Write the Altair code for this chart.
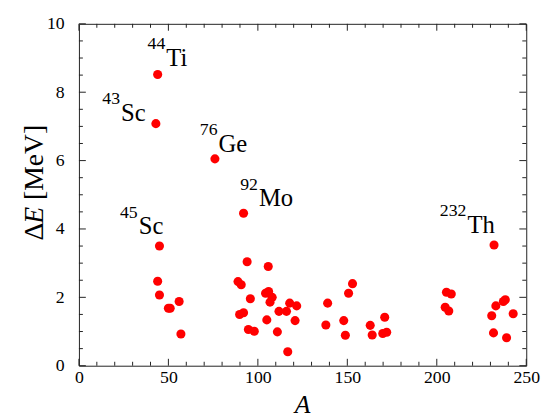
import altair as alt
import pandas as pd

# ---- data ----
A_vals = [44, 43, 76, 92, 45, 232,
          44, 45, 50, 51, 56, 57,
          94, 105.8, 88.9, 90.7, 104.3, 106, 108, 106.8, 95.8, 117.8, 121.7,
          111.8, 116, 89.8, 92, 105, 120.8, 94.7, 98, 110.9, 116.7,
          139, 138, 152.9, 150.7, 148, 148.9, 162.8, 163.9, 170.9, 169.8, 172,
          205.4, 208.1, 204.7, 206.7, 230.7, 233, 237.2, 238.3, 242.7, 231.7, 239]
E_vals = [8.52, 7.08, 6.05, 4.46, 3.50, 3.53,
          2.47, 2.07, 1.68, 1.68, 1.88, 0.93,
          3.04, 2.90, 2.46, 2.37, 2.12, 2.17, 2.00, 1.86, 1.96, 1.83, 1.75,
          1.59, 1.59, 1.50, 1.55, 1.34, 1.32, 1.06, 1.01, 0.99, 0.41,
          1.83, 1.19, 2.40, 2.12, 1.32, 0.89, 1.18, 0.90, 1.42, 0.94, 0.98,
          2.15, 2.10, 1.71, 1.60, 1.46, 1.75, 1.88, 1.93, 1.52, 0.96, 0.82]

# isotope annotations: mass number, element, anchor (A, E)
lab_mass = ["44", "43", "76", "92", "45", "232"]
lab_elem = ["Ti", "Sc", "Ge", "Mo", "Sc", "Th"]
lab_A = [48.8, 23.5, 78.0, 100.6, 33.4, 217.1]
lab_E = [8.78, 7.16, 6.25, 4.66, 3.84, 3.88]

x_major = [0, 50, 100, 150, 200, 250]
x_minor = [v for v in range(0, 251, 10) if v % 50 != 0]
y_major = [0, 2, 4, 6, 8, 10]
y_minor = [v / 2 for v in range(0, 21) if v % 4 != 0]

W, H = 454, 347
SERIF = "Liberation Serif"

pts = pd.DataFrame({"A": A_vals, "E": E_vals})
labs = pd.DataFrame({"mass": lab_mass, "elem": lab_elem, "A": lab_A, "E": lab_E})

xs = alt.Scale(domain=[0, 250], nice=False, zero=False)
ys = alt.Scale(domain=[0, 10], nice=False, zero=False)

x_axis = alt.Axis(values=x_major, ticks=False, domain=False, grid=False, title=None,
                  labelFont=SERIF, labelFontSize=18, labelColor="black", labelPadding=3,
                  labelFlush=False, labelOverlap=False)
y_axis = alt.Axis(values=y_major, ticks=False, domain=False, grid=False, title=None,
                  labelFont=SERIF, labelFontSize=18, labelColor="black", labelPadding=15,
                  labelFlush=False, labelOverlap=False)

points = alt.Chart(pts).mark_circle(size=85, color="#ff0000", opacity=1).encode(
    x=alt.X("A:Q", scale=xs, axis=x_axis),
    y=alt.Y("E:Q", scale=ys, axis=y_axis),
)

# inward ticks on all four sides
def xticks(vals, length):
    d = pd.DataFrame({"v": vals})
    bot = alt.Chart(d).mark_rule(color="#222", strokeWidth=1).encode(
        x=alt.X("v:Q", scale=xs), y=alt.value(H), y2=alt.value(H - length))
    top = alt.Chart(d).mark_rule(color="#222", strokeWidth=1).encode(
        x=alt.X("v:Q", scale=xs), y=alt.value(0), y2=alt.value(length))
    return [bot, top]

def yticks(vals, length):
    d = pd.DataFrame({"v": vals})
    left = alt.Chart(d).mark_rule(color="#222", strokeWidth=1).encode(
        y=alt.Y("v:Q", scale=ys), x=alt.value(0), x2=alt.value(length))
    right = alt.Chart(d).mark_rule(color="#222", strokeWidth=1).encode(
        y=alt.Y("v:Q", scale=ys), x=alt.value(W), x2=alt.value(W - length))
    return [left, right]

ticks = xticks(x_major, 7) + xticks(x_minor, 4) + yticks(y_major, 7) + yticks(y_minor, 4)

sup = alt.Chart(labs).mark_text(font=SERIF, fontSize=18, align="right",
                                baseline="alphabetic", dy=-17, dx=-1, color="black").encode(
    x=alt.X("A:Q", scale=xs), y=alt.Y("E:Q", scale=ys), text="mass:N")
elem = alt.Chart(labs).mark_text(font=SERIF, fontSize=25, align="left",
                                 baseline="alphabetic", color="black").encode(
    x=alt.X("A:Q", scale=xs), y=alt.Y("E:Q", scale=ys), text="elem:N")

# axis titles (y title mixes upright and italic glyphs)
title_df = pd.DataFrame({"t": ["A"]})
x_title = alt.Chart(title_df).mark_text(font=SERIF, fontSize=26, fontStyle="italic",
                                        align="center", baseline="alphabetic", color="black").encode(
    x=alt.value(W / 2), y=alt.value(H + 48), text="t:N")

FS = 28
y0 = 220  # bottom of the rotated title (plot coords)
pieces = [("Δ", "normal", 0.0), ("E", "italic", 0.612 * FS),
          ("[MeV]", "normal", 0.612 * FS + 0.611 * FS + 0.25 * FS)]
y_title_layers = []
for txt, style, off in pieces:
    y_title_layers.append(
        alt.Chart(pd.DataFrame({"t": [txt]})).mark_text(
            font=SERIF, fontSize=FS, fontStyle=style, align="left", baseline="alphabetic",
            angle=270, color="black").encode(
            x=alt.value(-36), y=alt.value(y0 - off), text="t:N"))

chart = alt.layer(points, *ticks, sup, elem, x_title, *y_title_layers).properties(
    width=W, height=H,
    padding={"left": 72, "top": 13, "right": 17, "bottom": 50},
    autosize=alt.AutoSizeParams(type="none"),
).configure_view(stroke="#222", strokeWidth=1)

chart.save("out.html", embed_options={"renderer": "svg", "actions": False})
